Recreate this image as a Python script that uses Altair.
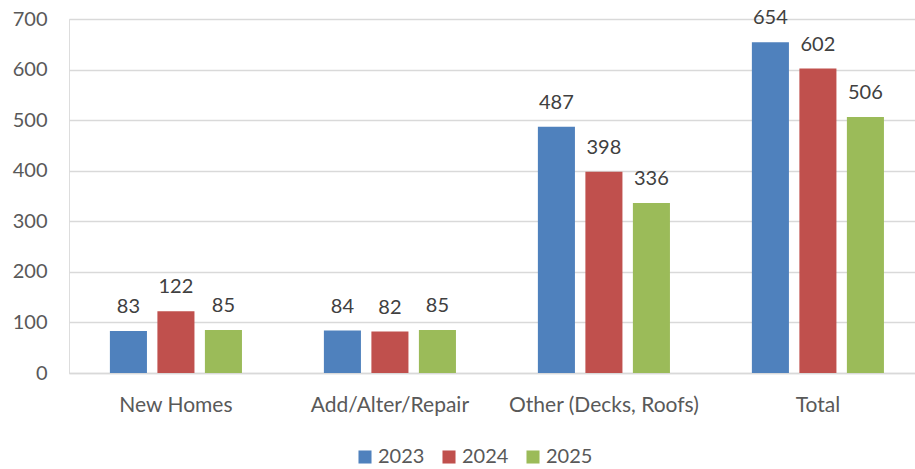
import altair as alt
import pandas as pd

categories = ["New Homes", "Add/Alter/Repair", "Other (Decks, Roofs)", "Total"]
years = ["2023", "2024", "2025"]
v2023 = [83, 84, 487, 654]
v2024 = [122, 82, 398, 602]
v2025 = [85, 85, 336, 506]
colors = ["#4F81BD", "#C0504D", "#9BBB59"]

rows = []
for yr, vals in zip(years, [v2023, v2024, v2025]):
    for c, v in zip(categories, vals):
        rows.append({"category": c, "year": yr, "value": v})
df = pd.DataFrame(rows)

FONT = "Lato"
FS = 20
x = alt.X("category:N", sort=categories, title=None,
          scale=alt.Scale(paddingInner=0.334, paddingOuter=0.1437, align=0.58),
          axis=alt.Axis(labelAngle=0, labelFontSize=FS + 1, labelColor="#595959", labelFont=FONT,
                        labelLimit=400, labelOverlap=False,
                        domain=True, domainColor="#D9D9D9", domainWidth=1.5, ticks=False,
                        labelPadding=21, grid=False))
xo = alt.XOffset("year:N", sort=years,
                 scale=alt.Scale(paddingInner=0.22, paddingOuter=0.11))
y = alt.Y("value:Q", title=None,
          scale=alt.Scale(domain=[0, 700]),
          axis=alt.Axis(values=[0, 100, 200, 300, 400, 500, 600, 700], labelFontSize=FS,
                        labelColor="#595959", labelFont=FONT, domain=False, ticks=False,
                        labelPadding=22, gridColor="#D9D9D9", gridWidth=1.5))

bars = alt.Chart(df).mark_bar().encode(
    x=x, xOffset=xo, y=y,
    color=alt.Color("year:N", sort=years, title=None,
                    scale=alt.Scale(domain=years, range=colors),
                    legend=alt.Legend(orient="none", direction="horizontal", legendX=286, legendY=428,
                                      symbolType="square", symbolSize=170, symbolStrokeWidth=0,
                                      labelFontSize=FS, labelColor="#595959", labelFont=FONT,
                                      labelOffset=3, columnPadding=14)),
)

labels = alt.Chart(df).mark_text(baseline="alphabetic", dy=-18, fontSize=FS, color="#404040", font=FONT).encode(
    x=alt.X("category:N", sort=categories), xOffset=alt.XOffset("year:N", sort=years), y="value:Q",
    text="value:Q",
)

chart = (bars + labels).properties(
    width=846, height=354,
    padding={"left": 69, "top": 19, "right": 0, "bottom": 96},
    autosize=alt.AutoSizeParams(type="none"),
).configure_view(stroke=None).configure(background="white")

chart.save("out.html", embed_options={"renderer": "svg", "actions": False})
